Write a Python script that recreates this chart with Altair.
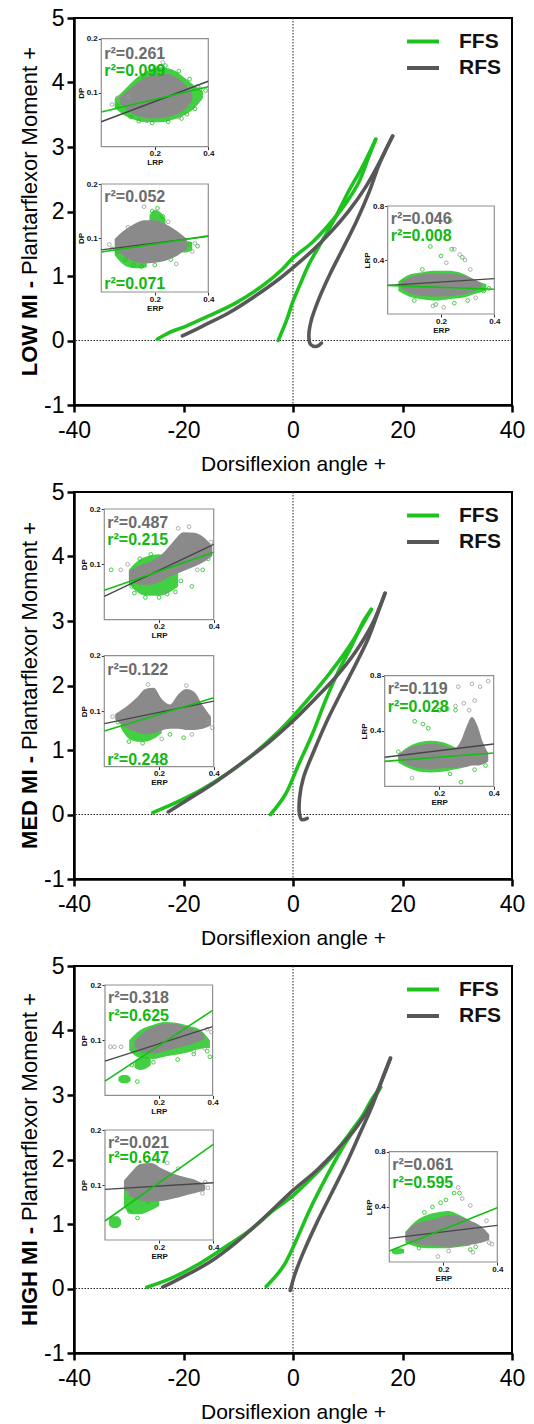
import altair as alt
import pandas as pd

# ---------------- main loops: dorsiflexion angle (deg) vs plantarflexor moment ----------------
# each curve: loading branch (start -> peak) and return branch (peak -> end)
LOW_FFS_LOAD_ANGLE = [-24.8, -22.7, -19.6, -15.4, -10.5, -5.7, -2.0, 0.0, 3.5, 6.5, 9.5, 12.0, 13.8, 15.1]
LOW_FFS_LOAD_MOMENT = [0.02, 0.12, 0.22, 0.38, 0.58, 0.84, 1.10, 1.28, 1.52, 1.79, 2.11, 2.45, 2.84, 3.12]
LOW_FFS_RET_ANGLE = [15.1, 14.4, 12.6, 10.2, 7.7, 5.3, 2.9, 1.3, 0.0, -1.1, -2.7]
LOW_FFS_RET_MOMENT = [3.12, 2.99, 2.68, 2.32, 1.90, 1.54, 1.18, 0.87, 0.61, 0.33, 0.0]
LOW_RFS_LOAD_ANGLE = [-20.2, -16.6, -11.7, -6.9, -2.6, 0.0, 3.5, 7.1, 10.2, 13.2, 15.6, 18.2]
LOW_RFS_LOAD_MOMENT = [0.07, 0.22, 0.43, 0.69, 0.95, 1.13, 1.39, 1.70, 2.01, 2.37, 2.73, 3.17]
LOW_RFS_RET_ANGLE = [18.2, 16.9, 15.6, 13.9, 11.6, 9.2, 6.7, 4.8, 3.3, 2.9, 3.2, 4.4, 5.2]
LOW_RFS_RET_MOMENT = [3.17, 2.95, 2.70, 2.30, 1.85, 1.44, 1.02, 0.66, 0.30, 0.07, -0.06, -0.09, -0.04]

MED_FFS_LOAD_ANGLE = [-25.6, -21.5, -16.6, -11.7, -6.9, -2.6, 0.0, 3.5, 6.5, 9.5, 12.0, 14.3]
MED_FFS_LOAD_MOMENT = [0.03, 0.18, 0.39, 0.65, 0.96, 1.29, 1.52, 1.86, 2.17, 2.51, 2.84, 3.18]
MED_FFS_RET_ANGLE = [14.3, 12.9, 10.8, 8.3, 5.9, 3.5, 1.0, -1.4, -4.1]
MED_FFS_RET_MOMENT = [3.18, 3.00, 2.63, 2.22, 1.76, 1.24, 0.77, 0.31, 0.0]
MED_RFS_LOAD_ANGLE = [-22.8, -19.0, -14.2, -9.3, -4.4, 0.0, 4.1, 7.7, 11.4, 14.4, 16.8]
MED_RFS_LOAD_MOMENT = [0.04, 0.24, 0.50, 0.80, 1.12, 1.45, 1.80, 2.12, 2.52, 2.94, 3.43]
MED_RFS_RET_ANGLE = [16.8, 15.6, 13.8, 11.4, 8.9, 6.2, 3.8, 1.9, 1.2, 1.2, 1.6, 2.6]
MED_RFS_RET_MOMENT = [3.43, 3.15, 2.74, 2.32, 1.91, 1.45, 0.98, 0.57, 0.26, 0.0, -0.08, -0.06]

HIGH_FFS_LOAD_ANGLE = [-26.7, -22.5, -17.6, -12.8, -7.9, -3.6, 0.0, 3.6, 7.3, 10.3, 13.4, 16.0]
HIGH_FFS_LOAD_MOMENT = [0.02, 0.15, 0.36, 0.62, 0.90, 1.21, 1.44, 1.73, 2.06, 2.40, 2.76, 3.12]
HIGH_FFS_RET_ANGLE = [16.0, 14.6, 12.2, 9.1, 6.1, 3.0, 0.6, -1.8, -4.9]
HIGH_FFS_RET_MOMENT = [3.12, 2.96, 2.60, 2.19, 1.73, 1.21, 0.75, 0.34, 0.03]
HIGH_RFS_LOAD_ANGLE = [-23.8, -20.1, -15.2, -10.3, -5.5, 0.0, 4.3, 7.9, 11.6, 14.6, 17.8]
HIGH_RFS_LOAD_MOMENT = [0.02, 0.18, 0.41, 0.72, 1.08, 1.52, 1.83, 2.14, 2.50, 2.91, 3.57]
HIGH_RFS_RET_ANGLE = [17.8, 16.4, 14.6, 12.2, 9.7, 7.0, 4.3, 1.8, 0.3, -0.5]
HIGH_RFS_RET_MOMENT = [3.57, 3.27, 2.86, 2.40, 1.93, 1.47, 1.01, 0.54, 0.21, -0.03]

# ---------------- inset scatter data ----------------
# fits: y at x=0 and x=0.4 ; bands: (x, low, high) envelopes of dense clouds ; pts: (x, y)
LOW_A_FIT_GRAY = [0.046, 0.121]
LOW_A_FIT_GREEN = [0.064, 0.111]
LOW_A_GRAY_BAND = [(0.07, 0.080, 0.090), (0.10, 0.066, 0.104), (0.14, 0.056, 0.120), (0.19, 0.052, 0.132),
                   (0.24, 0.054, 0.135), (0.28, 0.060, 0.128), (0.31, 0.068, 0.116), (0.34, 0.085, 0.098)]
LOW_A_GREEN_BANDS = [[(0.05, 0.072, 0.088), (0.08, 0.060, 0.102), (0.12, 0.050, 0.122), (0.17, 0.045, 0.140),
                      (0.22, 0.045, 0.147), (0.27, 0.050, 0.142), (0.31, 0.058, 0.128), (0.35, 0.072, 0.112),
                      (0.38, 0.090, 0.102)]]
LOW_A_GREEN_PTS = [(0.06, 0.076), (0.09, 0.082), (0.13, 0.100), (0.16, 0.128), (0.20, 0.146), (0.24, 0.150),
                   (0.29, 0.140), (0.33, 0.125), (0.37, 0.107), (0.39, 0.104), (0.35, 0.070), (0.30, 0.052),
                   (0.25, 0.046), (0.19, 0.044), (0.14, 0.047), (0.11, 0.055), (0.32, 0.060)]
LOW_A_GRAY_PTS = [(0.04, 0.078), (0.06, 0.090), (0.10, 0.092), (0.23, 0.156), (0.33, 0.108), (0.36, 0.112),
                  (0.29, 0.055), (0.17, 0.048)]

LOW_B_FIT_GRAY = [0.078, 0.103]
LOW_B_FIT_GREEN = [0.074, 0.104]
LOW_B_GRAY_BAND = [(0.05, 0.085, 0.098), (0.08, 0.068, 0.112), (0.12, 0.057, 0.125), (0.16, 0.053, 0.133),
                   (0.20, 0.054, 0.133), (0.24, 0.058, 0.126), (0.28, 0.066, 0.114), (0.32, 0.080, 0.098)]
LOW_B_GREEN_BANDS = [[(0.18, 0.125, 0.142), (0.20, 0.120, 0.152), (0.22, 0.122, 0.148), (0.24, 0.125, 0.135)],
                     [(0.05, 0.068, 0.085), (0.08, 0.052, 0.075), (0.11, 0.045, 0.065), (0.14, 0.044, 0.058),
                      (0.17, 0.046, 0.056)],
                     [(0.28, 0.075, 0.090), (0.31, 0.073, 0.095), (0.34, 0.077, 0.092)]]
LOW_B_GREEN_PTS = [(0.06, 0.075), (0.09, 0.060), (0.12, 0.050), (0.15, 0.047), (0.19, 0.150), (0.21, 0.155),
                   (0.23, 0.140), (0.30, 0.082), (0.33, 0.088), (0.36, 0.085), (0.04, 0.080), (0.26, 0.060),
                   (0.20, 0.050)]
LOW_B_GRAY_PTS = [(0.16, 0.158), (0.03, 0.088), (0.35, 0.090), (0.34, 0.075), (0.28, 0.052), (0.10, 0.120),
                  (0.25, 0.130)]

LOW_C_FIT_GRAY = [0.212, 0.262]
LOW_C_FIT_GREEN = [0.212, 0.183]
LOW_C_GRAY_BAND = [(0.05, 0.19, 0.23), (0.08, 0.155, 0.27), (0.12, 0.135, 0.29), (0.17, 0.13, 0.30),
                   (0.22, 0.13, 0.30), (0.27, 0.14, 0.29), (0.31, 0.16, 0.27), (0.35, 0.19, 0.23)]
LOW_C_GREEN_BANDS = [[(0.04, 0.17, 0.24), (0.08, 0.13, 0.29), (0.13, 0.11, 0.31), (0.18, 0.10, 0.32),
                      (0.23, 0.11, 0.32), (0.28, 0.12, 0.30), (0.33, 0.15, 0.25), (0.37, 0.17, 0.22)]]
LOW_C_GREEN_PTS = [(0.235, 0.69), (0.16, 0.50), (0.24, 0.48), (0.20, 0.43), (0.28, 0.42), (0.13, 0.33),
                   (0.30, 0.10), (0.25, 0.08), (0.18, 0.07), (0.36, 0.17), (0.38, 0.19), (0.06, 0.24),
                   (0.10, 0.10)]
LOW_C_GRAY_PTS = [(0.25, 0.48), (0.27, 0.44), (0.29, 0.40), (0.22, 0.38), (0.31, 0.33), (0.17, 0.06),
                  (0.21, 0.05), (0.33, 0.12)]

MED_A_FIT_GRAY = [0.042, 0.136]
MED_A_FIT_GREEN = [0.053, 0.122]
MED_A_GRAY_BAND = [(0.09, 0.072, 0.088), (0.13, 0.063, 0.098), (0.17, 0.063, 0.105), (0.21, 0.070, 0.118),
                   (0.25, 0.080, 0.140), (0.29, 0.088, 0.158), (0.33, 0.096, 0.157), (0.37, 0.106, 0.146),
                   (0.395, 0.115, 0.132)]
MED_A_GREEN_BANDS = [[(0.09, 0.065, 0.090), (0.12, 0.050, 0.105), (0.16, 0.043, 0.115), (0.20, 0.043, 0.118),
                      (0.24, 0.050, 0.108), (0.27, 0.060, 0.095)]]
MED_A_GREEN_PTS = [(0.025, 0.090), (0.10, 0.060), (0.11, 0.048), (0.15, 0.040), (0.20, 0.040), (0.23, 0.046),
                   (0.26, 0.050), (0.32, 0.060), (0.38, 0.110), (0.36, 0.090), (0.28, 0.070), (0.13, 0.110),
                   (0.17, 0.118)]
MED_A_GRAY_PTS = [(0.06, 0.090), (0.085, 0.100), (0.27, 0.165), (0.31, 0.168), (0.39, 0.140), (0.34, 0.090),
                  (0.22, 0.050)]

MED_B_FIT_GRAY = [0.0775, 0.118]
MED_B_FIT_GREEN = [0.064, 0.124]
MED_B_GRAY_BAND = [(0.04, 0.085, 0.095), (0.08, 0.070, 0.108), (0.12, 0.062, 0.125), (0.15, 0.058, 0.140),
                   (0.18, 0.060, 0.142), (0.21, 0.065, 0.122), (0.24, 0.068, 0.112), (0.27, 0.068, 0.130),
                   (0.30, 0.066, 0.140), (0.33, 0.066, 0.134), (0.36, 0.068, 0.110), (0.39, 0.074, 0.090)]
MED_B_GREEN_BANDS = [[(0.06, 0.070, 0.090), (0.09, 0.050, 0.097), (0.12, 0.045, 0.100), (0.15, 0.045, 0.100),
                      (0.18, 0.050, 0.095), (0.21, 0.060, 0.085)]]
MED_B_GREEN_PTS = [(0.29, 0.052), (0.37, 0.085), (0.25, 0.100), (0.28, 0.110), (0.22, 0.100), (0.09, 0.045),
                   (0.14, 0.042), (0.33, 0.075), (0.05, 0.080), (0.24, 0.058)]
MED_B_GRAY_PTS = [(0.03, 0.090), (0.16, 0.148), (0.30, 0.146), (0.38, 0.080), (0.395, 0.070), (0.32, 0.058),
                  (0.21, 0.050)]

MED_C_FIT_GRAY = [0.21, 0.306]
MED_C_FIT_GREEN = [0.18, 0.241]
MED_C_GRAY_BAND = [(0.05, 0.19, 0.23), (0.09, 0.15, 0.28), (0.13, 0.13, 0.30), (0.17, 0.125, 0.31),
                   (0.21, 0.13, 0.30), (0.25, 0.13, 0.27), (0.28, 0.14, 0.33), (0.30, 0.14, 0.43),
                   (0.32, 0.15, 0.50), (0.34, 0.15, 0.44), (0.36, 0.16, 0.32), (0.38, 0.18, 0.24)]
MED_C_GREEN_BANDS = [[(0.05, 0.17, 0.23), (0.09, 0.13, 0.29), (0.13, 0.105, 0.32), (0.17, 0.10, 0.33),
                      (0.21, 0.105, 0.32), (0.25, 0.12, 0.29), (0.30, 0.14, 0.24)]]
MED_C_GREEN_PTS = [(0.28, 0.03), (0.11, 0.47), (0.14, 0.45), (0.20, 0.55), (0.23, 0.56), (0.26, 0.55),
                   (0.16, 0.42), (0.33, 0.12), (0.37, 0.15), (0.05, 0.25), (0.24, 0.09)]
MED_C_GRAY_PTS = [(0.27, 0.72), (0.32, 0.74), (0.35, 0.72), (0.38, 0.76), (0.29, 0.60), (0.33, 0.62),
                  (0.31, 0.55), (0.10, 0.06), (0.26, 0.58)]

HIGH_A_FIT_GRAY = [0.062, 0.1245]
HIGH_A_FIT_GREEN = [0.026, 0.154]
HIGH_A_GRAY_BAND = [(0.11, 0.088, 0.098), (0.14, 0.078, 0.113), (0.18, 0.076, 0.124), (0.22, 0.080, 0.130),
                    (0.26, 0.085, 0.130), (0.30, 0.090, 0.124), (0.34, 0.096, 0.118), (0.37, 0.102, 0.110)]
HIGH_A_GREEN_BANDS = [[(0.09, 0.082, 0.100), (0.13, 0.068, 0.118), (0.18, 0.066, 0.128), (0.22, 0.070, 0.133),
                       (0.27, 0.074, 0.131), (0.31, 0.078, 0.126), (0.35, 0.084, 0.120), (0.39, 0.086, 0.100)],
                      [(0.11, 0.050, 0.062), (0.13, 0.046, 0.068), (0.15, 0.048, 0.070), (0.17, 0.054, 0.066)],
                      [(0.05, 0.026, 0.033), (0.065, 0.022, 0.037), (0.08, 0.022, 0.037), (0.095, 0.026, 0.032)]]
HIGH_A_GREEN_PTS = [(0.12, 0.025), (0.10, 0.055), (0.18, 0.060), (0.27, 0.065), (0.33, 0.075), (0.38, 0.080),
                    (0.39, 0.070), (0.14, 0.080), (0.36, 0.110)]
HIGH_A_GRAY_PTS = [(0.02, 0.088), (0.035, 0.088), (0.06, 0.088), (0.10, 0.092), (0.38, 0.120), (0.395, 0.115),
                   (0.33, 0.080), (0.37, 0.085)]

HIGH_B_FIT_GRAY = [0.092, 0.104]
HIGH_B_FIT_GREEN = [0.0345, 0.174]
HIGH_B_GRAY_BAND = [(0.07, 0.092, 0.108), (0.10, 0.078, 0.125), (0.13, 0.072, 0.138), (0.17, 0.070, 0.140),
                    (0.21, 0.071, 0.130), (0.25, 0.075, 0.121), (0.29, 0.080, 0.115), (0.33, 0.085, 0.110),
                    (0.37, 0.090, 0.100)]
HIGH_B_GREEN_BANDS = [[(0.07, 0.060, 0.095), (0.10, 0.047, 0.112), (0.13, 0.047, 0.120), (0.16, 0.052, 0.115),
                       (0.20, 0.062, 0.100)],
                      [(0.015, 0.027, 0.037), (0.03, 0.022, 0.043), (0.045, 0.022, 0.043), (0.06, 0.028, 0.036)]]
HIGH_B_GREEN_PTS = [(0.08, 0.100), (0.10, 0.115), (0.25, 0.110), (0.30, 0.100), (0.20, 0.080), (0.12, 0.040),
                    (0.09, 0.052), (0.16, 0.070)]
HIGH_B_GRAY_PTS = [(0.37, 0.105), (0.38, 0.095), (0.36, 0.085), (0.23, 0.140), (0.27, 0.130), (0.08, 0.085)]

HIGH_C_FIT_GRAY = [0.171, 0.266]
HIGH_C_FIT_GREEN = [0.08, 0.394]
HIGH_C_GRAY_BAND = [(0.06, 0.16, 0.22), (0.10, 0.13, 0.28), (0.14, 0.12, 0.30), (0.18, 0.115, 0.32),
                    (0.22, 0.11, 0.34), (0.26, 0.115, 0.33), (0.30, 0.125, 0.30), (0.34, 0.14, 0.26),
                    (0.37, 0.16, 0.20)]
HIGH_C_GREEN_BANDS = [[(0.06, 0.14, 0.22), (0.10, 0.11, 0.30), (0.14, 0.10, 0.34), (0.18, 0.10, 0.36),
                       (0.22, 0.10, 0.37), (0.26, 0.11, 0.34), (0.30, 0.12, 0.30)],
                      [(0.01, 0.065, 0.085), (0.025, 0.055, 0.100), (0.04, 0.058, 0.100), (0.055, 0.065, 0.090)]]
HIGH_C_GREEN_PTS = [(0.16, 0.40), (0.19, 0.43), (0.21, 0.45), (0.24, 0.50), (0.26, 0.50), (0.13, 0.36),
                    (0.32, 0.11), (0.30, 0.09), (0.11, 0.10), (0.28, 0.30)]
HIGH_C_GRAY_PTS = [(0.255, 0.54), (0.27, 0.46), (0.30, 0.41), (0.36, 0.30), (0.37, 0.14), (0.38, 0.13),
                   (0.22, 0.08), (0.18, 0.04), (0.31, 0.07)]

R2_TEXT = {
    "LOW": [("r²=0.261", "r²=0.099"), ("r²=0.052", "r²=0.071"), ("r²=0.046", "r²=0.008")],
    "MED": [("r²=0.487", "r²=0.215"), ("r²=0.122", "r²=0.248"), ("r²=0.119", "r²=0.028")],
    "HIGH": [("r²=0.318", "r²=0.625"), ("r²=0.021", "r²=0.647"), ("r²=0.061", "r²=0.595")],
}
PANEL_LABEL = {"LOW": "LOW MI -", "MED": "MED MI -", "HIGH": "HIGH MI -"}
AXIS_X_VALUES = [-40, -20, 0, 20, 40]
AXIS_Y_VALUES = [-1, 0, 1, 2, 3, 4, 5]

# ---------------- layout / style ----------------
W, H = 438, 387
FONT = "Liberation Sans, Arial, Helvetica, sans-serif"
NARROW = "Liberation Sans Narrow, Arial Narrow, Liberation Sans, Arial, sans-serif"
GREEN = "#1ec21e"
GRAY = "#575757"
GREEN_TXT = "#12b812"
GRAY_TXT = "#6b6b6b"

# inset boxes (left, top, right, bottom) in plot pixels
BOXES = {
    "LOW": [(27.3, 20.6, 134.3, 128.6), (27.3, 166.0, 134.3, 274.0), (313.7, 188.0, 420.3, 296.0)],
    "MED": [(30.3, 17.0, 139.7, 127.6), (30.3, 163.6, 139.7, 274.6), (310.7, 183.6, 419.7, 294.3)],
    "HIGH": [(31.0, 19.0, 138.6, 129.4), (31.0, 164.0, 139.3, 274.0), (315.3, 185.7, 423.3, 296.0)],
}
# r2 text centre offsets from inset top (gray, green); negative = from bottom
R2_DY = {
    "LOW": [(15, 32), (13, -8), (12.7, 30.3)],
    "MED": [(14, 31.3), (14, -7), (13.4, 31.7)],
    "HIGH": [(13.4, 31), (12.7, 28.4), (13.7, 31)],
}
TITLE_SPLIT = {"LOW": 263.0, "MED": 264.0, "HIGH": 261.0}


def band_df(bands):
    rows = []
    for g, band in enumerate(bands):
        for (x, lo, hi) in band:
            rows.append({"g": g, "x": x, "lo": lo, "hi": hi})
    return pd.DataFrame(rows)


def pts_df(pts):
    return pd.DataFrame(pts, columns=["x", "y"])


def make_inset(box, ymax, xtitle, ytitle, fit_gray, fit_green, gray_band, green_bands,
               green_pts, gray_pts, txt_gray, txt_green, dys):
    l, t, r, b = box
    sx = alt.Scale(domain=[0, 0.4], range=[l, r], nice=False, zero=False)
    sy = alt.Scale(domain=[0, ymax], range=[b, t], nice=False, zero=False)
    common = dict(domain=False, grid=False, tickSize=3, tickWidth=1, tickColor="#333",
                  labelFontSize=8, labelFontWeight="bold", labelColor="#111", labelFont=FONT,
                  titleFontSize=8, titleFontWeight="bold", titleColor="#111", titleFont=FONT,
                  format=".1f", labelFlush=False)
    xax = alt.Axis(orient="bottom", offset=b - H, values=[0.2, 0.4], labelPadding=0,
                   title=xtitle, titlePadding=1, **common)
    yax = alt.Axis(orient="left", offset=-l, values=[ymax / 2, ymax], labelPadding=1,
                   title=ytitle, titlePadding=1, **common)
    frame = alt.Chart(pd.DataFrame({"x0": [0.0], "x1": [0.4], "y0": [0.0], "y1": [ymax]})).mark_rect(
        fill="white", stroke="#8f8f8f", strokeWidth=1.2).encode(
        x=alt.X("x0:Q", scale=sx, axis=xax), x2="x1:Q",
        y=alt.Y("y0:Q", scale=sy, axis=yax), y2="y1:Q")
    green_area = alt.Chart(band_df(green_bands)).mark_area(
        color="#22c722", opacity=0.85, interpolate="monotone").encode(
        x=alt.X("x:Q", scale=sx, axis=None), y=alt.Y("lo:Q", scale=sy, axis=None), y2="hi:Q",
        detail="g:N")
    green_p = alt.Chart(pts_df(green_pts)).mark_point(
        shape="circle", filled=False, size=14, strokeWidth=0.8, color="#19c219", opacity=1).encode(
        x=alt.X("x:Q", scale=sx, axis=None), y=alt.Y("y:Q", scale=sy, axis=None))
    gray_area = alt.Chart(band_df([gray_band])).mark_area(
        color="#8a8a8a", opacity=1, interpolate="monotone").encode(
        x=alt.X("x:Q", scale=sx, axis=None), y=alt.Y("lo:Q", scale=sy, axis=None), y2="hi:Q",
        detail="g:N")
    gray_p = alt.Chart(pts_df(gray_pts)).mark_point(
        shape="circle", filled=False, size=14, strokeWidth=0.8, color="#9a9a9a", opacity=1).encode(
        x=alt.X("x:Q", scale=sx, axis=None), y=alt.Y("y:Q", scale=sy, axis=None))
    fg = alt.Chart(pd.DataFrame({"x": [0.0, 0.4], "y": fit_gray})).mark_line(
        color="#474747", strokeWidth=1.4).encode(
        x=alt.X("x:Q", scale=sx, axis=None), y=alt.Y("y:Q", scale=sy, axis=None))
    fgr = alt.Chart(pd.DataFrame({"x": [0.0, 0.4], "y": fit_green})).mark_line(
        color="#12c012", strokeWidth=1.6).encode(
        x=alt.X("x:Q", scale=sx, axis=None), y=alt.Y("y:Q", scale=sy, axis=None))
    dg, dn = dys
    yg = t + dg if dg >= 0 else b + dg
    yn = t + dn if dn >= 0 else b + dn
    tg = alt.Chart(pd.DataFrame({"s": [txt_gray]})).mark_text(
        font=NARROW, fontSize=16, fontWeight="bold", color=GRAY_TXT, align="left", baseline="middle").encode(
        text="s:N", x=alt.value(l + 3), y=alt.value(yg))
    tn = alt.Chart(pd.DataFrame({"s": [txt_green]})).mark_text(
        font=NARROW, fontSize=16, fontWeight="bold", color=GREEN_TXT, align="left", baseline="middle").encode(
        text="s:N", x=alt.value(l + 3), y=alt.value(yn))
    return [frame, green_area, green_p, gray_area, gray_p, fg, fgr, tg, tn]


def curve_df(la, lm, ra, rm):
    rows = []
    for i, (a, m) in enumerate(zip(la, lm)):
        rows.append({"angle": a, "moment": m, "i": i, "b": "load"})
    for i, (a, m) in enumerate(zip(ra, rm)):
        rows.append({"angle": a, "moment": m, "i": i, "b": "ret"})
    return pd.DataFrame(rows)


def make_panel(key, ffs, rfs, inset_layers):
    xs = alt.Scale(domain=[-40, 40], nice=False, zero=False)
    ys = alt.Scale(domain=[-1, 5], nice=False, zero=False)
    axc = dict(grid=False, domainColor="#000", domainWidth=2.5, tickColor="#000", tickWidth=2.5,
               tickSize=7, labelFont=FONT, labelFontSize=23, labelColor="#000", labelFlush=False,
               labelExpr="'' + datum.value")
    xax = alt.Axis(orient="bottom", values=AXIS_X_VALUES, labelPadding=7, title="Dorsiflexion angle +",
                   titleFont=FONT, titleFontSize=21, titleFontWeight="normal", titleColor="#000",
                   titlePadding=11, **axc)
    yax = alt.Axis(orient="left", values=AXIS_Y_VALUES, labelPadding=3, title=None, **axc)

    zero_df = pd.DataFrame({"v": [0.0]})
    vrule = alt.Chart(zero_df).mark_rule(color="#222", strokeWidth=1, strokeDash=[1.5, 1.5]).encode(
        x=alt.X("v:Q", scale=xs, axis=xax))
    hrule = alt.Chart(zero_df).mark_rule(color="#222", strokeWidth=1, strokeDash=[1.5, 1.5]).encode(
        y=alt.Y("v:Q", scale=ys, axis=yax))
    green_line = alt.Chart(curve_df(*ffs)).mark_line(
        color=GREEN, strokeWidth=3.6, interpolate="catmull-rom", strokeCap="round").encode(
        x=alt.X("angle:Q", scale=xs, axis=None), y=alt.Y("moment:Q", scale=ys, axis=None),
        order="i:Q", detail="b:N")
    gray_line = alt.Chart(curve_df(*rfs)).mark_line(
        color=GRAY, strokeWidth=3.6, interpolate="catmull-rom", strokeCap="round").encode(
        x=alt.X("angle:Q", scale=xs, axis=None), y=alt.Y("moment:Q", scale=ys, axis=None),
        order="i:Q", detail="b:N")

    one = pd.DataFrame({"s": ["FFS"]})
    leg_g = alt.Chart(one).mark_rule(color=GREEN, strokeWidth=4).encode(
        x=alt.value(333), x2=alt.value(365), y=alt.value(23.5))
    leg_k = alt.Chart(one).mark_rule(color=GRAY, strokeWidth=4).encode(
        x=alt.value(333), x2=alt.value(365), y=alt.value(50))
    leg_gt = alt.Chart(pd.DataFrame({"s": ["FFS"]})).mark_text(
        font=FONT, fontSize=21, fontWeight="bold", color="#111", align="left", baseline="middle").encode(
        text="s:N", x=alt.value(385), y=alt.value(23.5))
    leg_kt = alt.Chart(pd.DataFrame({"s": ["RFS"]})).mark_text(
        font=FONT, fontSize=21, fontWeight="bold", color="#111", align="left", baseline="middle").encode(
        text="s:N", x=alt.value(385), y=alt.value(50))

    split = TITLE_SPLIT[key]
    t_bold = alt.Chart(pd.DataFrame({"s": [PANEL_LABEL[key]]})).mark_text(
        font=FONT, fontSize=22, fontWeight="bold", color="#000", angle=270, align="right",
        baseline="middle").encode(text="s:N", x=alt.value(-44), y=alt.value(split))
    t_reg = alt.Chart(pd.DataFrame({"s": ["Plantarflexor Moment +"]})).mark_text(
        font=FONT, fontSize=22, fontWeight="normal", color="#000", angle=270, align="left",
        baseline="middle").encode(text="s:N", x=alt.value(-44), y=alt.value(split - 6))

    layers = [vrule, hrule, green_line, gray_line, leg_g, leg_k, leg_gt, leg_kt, t_bold, t_reg] + inset_layers
    return alt.layer(*layers).resolve_scale(x="independent", y="independent").properties(
        width=W, height=H)


def panel_insets(key, data):
    boxes = BOXES[key]
    texts = R2_TEXT[key]
    dys = R2_DY[key]
    specs = [(0.2, "LRP", "DP"), (0.2, "ERP", "DP"), (0.8, "ERP", "LRP")]
    out = []
    for k in range(3):
        ymax, xt, yt = specs[k]
        d = data[k]
        out += make_inset(boxes[k], ymax, xt, yt, d[0], d[1], d[2], d[3], d[4], d[5],
                          texts[k][0], texts[k][1], dys[k])
    return out


low = make_panel(
    "LOW",
    (LOW_FFS_LOAD_ANGLE, LOW_FFS_LOAD_MOMENT, LOW_FFS_RET_ANGLE, LOW_FFS_RET_MOMENT),
    (LOW_RFS_LOAD_ANGLE, LOW_RFS_LOAD_MOMENT, LOW_RFS_RET_ANGLE, LOW_RFS_RET_MOMENT),
    panel_insets("LOW", [
        (LOW_A_FIT_GRAY, LOW_A_FIT_GREEN, LOW_A_GRAY_BAND, LOW_A_GREEN_BANDS, LOW_A_GREEN_PTS, LOW_A_GRAY_PTS),
        (LOW_B_FIT_GRAY, LOW_B_FIT_GREEN, LOW_B_GRAY_BAND, LOW_B_GREEN_BANDS, LOW_B_GREEN_PTS, LOW_B_GRAY_PTS),
        (LOW_C_FIT_GRAY, LOW_C_FIT_GREEN, LOW_C_GRAY_BAND, LOW_C_GREEN_BANDS, LOW_C_GREEN_PTS, LOW_C_GRAY_PTS),
    ]))
med = make_panel(
    "MED",
    (MED_FFS_LOAD_ANGLE, MED_FFS_LOAD_MOMENT, MED_FFS_RET_ANGLE, MED_FFS_RET_MOMENT),
    (MED_RFS_LOAD_ANGLE, MED_RFS_LOAD_MOMENT, MED_RFS_RET_ANGLE, MED_RFS_RET_MOMENT),
    panel_insets("MED", [
        (MED_A_FIT_GRAY, MED_A_FIT_GREEN, MED_A_GRAY_BAND, MED_A_GREEN_BANDS, MED_A_GREEN_PTS, MED_A_GRAY_PTS),
        (MED_B_FIT_GRAY, MED_B_FIT_GREEN, MED_B_GRAY_BAND, MED_B_GREEN_BANDS, MED_B_GREEN_PTS, MED_B_GRAY_PTS),
        (MED_C_FIT_GRAY, MED_C_FIT_GREEN, MED_C_GRAY_BAND, MED_C_GREEN_BANDS, MED_C_GREEN_PTS, MED_C_GRAY_PTS),
    ]))
high = make_panel(
    "HIGH",
    (HIGH_FFS_LOAD_ANGLE, HIGH_FFS_LOAD_MOMENT, HIGH_FFS_RET_ANGLE, HIGH_FFS_RET_MOMENT),
    (HIGH_RFS_LOAD_ANGLE, HIGH_RFS_LOAD_MOMENT, HIGH_RFS_RET_ANGLE, HIGH_RFS_RET_MOMENT),
    panel_insets("HIGH", [
        (HIGH_A_FIT_GRAY, HIGH_A_FIT_GREEN, HIGH_A_GRAY_BAND, HIGH_A_GREEN_BANDS, HIGH_A_GREEN_PTS, HIGH_A_GRAY_PTS),
        (HIGH_B_FIT_GRAY, HIGH_B_FIT_GREEN, HIGH_B_GRAY_BAND, HIGH_B_GREEN_BANDS, HIGH_B_GREEN_PTS, HIGH_B_GRAY_PTS),
        (HIGH_C_FIT_GRAY, HIGH_C_FIT_GREEN, HIGH_C_GRAY_BAND, HIGH_C_GREEN_BANDS, HIGH_C_GREEN_PTS, HIGH_C_GRAY_PTS),
    ]))

chart = alt.vconcat(low, med, high, spacing=5).configure(
    font=FONT, padding={"left": 17, "top": 6, "right": 4, "bottom": 4}, background="white"
).configure_view(stroke="#000", strokeWidth=2)

chart.save("out.html", embed_options={"renderer": "svg", "actions": False})
